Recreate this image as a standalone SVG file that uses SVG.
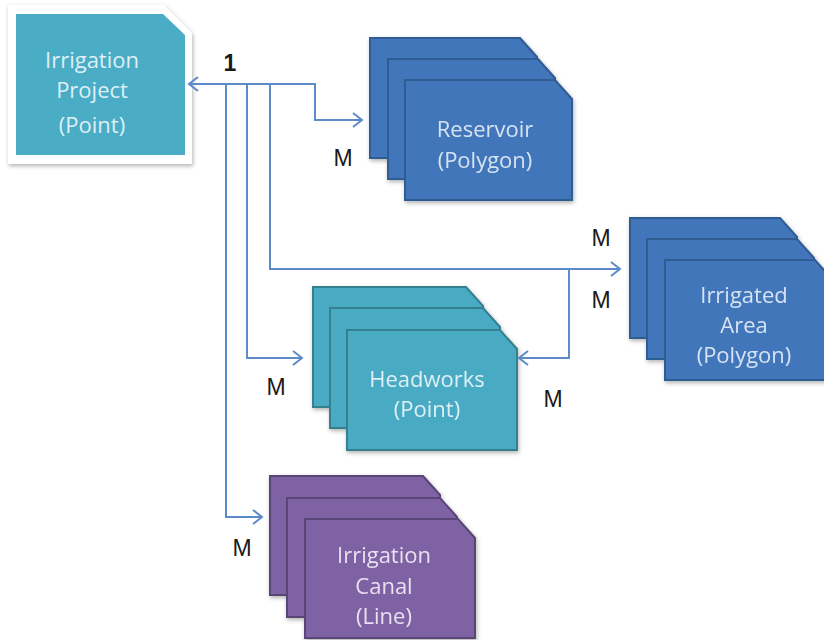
<svg xmlns="http://www.w3.org/2000/svg" width="824" height="640" viewBox="0 0 824 640">
  <defs>
    <filter id="shadow" x="-10%" y="-10%" width="130%" height="130%">
      <feDropShadow dx="1" dy="2" stdDeviation="2" flood-color="#000" flood-opacity="0.3"/>
    </filter>
    <marker id="arrow" markerUnits="userSpaceOnUse" markerWidth="14" markerHeight="16" refX="10" refY="8" orient="auto-start-reverse">
      <path d="M1,1 L10,8 L1,15" fill="none" stroke="#5B8BC9" stroke-width="2"/>
    </marker>
    <style>
      .blue { fill: #4276BA; stroke: #2F5B93; stroke-width: 2; }
      .teal { fill: #48AAC3; stroke: #34808F; stroke-width: 2; }
      .purple { fill: #7F62A3; stroke: #5A4477; stroke-width: 2; }
      .lbl { font-family: "Open Sans", "Liberation Sans", sans-serif; font-size: 22px; text-anchor: middle; }
      .on-blue { fill: #D6E3F3; }
      .on-teal { fill: #DDF0F5; }
      .on-purple { fill: #E9E0F2; }
      .card { font-family: "Liberation Sans", Arial, sans-serif; font-size: 23px; fill: #1A1A1A; text-anchor: middle; }
      .conn { fill: none; stroke: #5B8BC9; stroke-width: 2; }
    </style>
  </defs>

  <rect width="824" height="640" fill="#FFFFFF"/>

  <!-- Irrigation Project -->
  <g id="irrigation-project">
    <path d="M8,5 H164 L192,33 V164 H8 Z" fill="#FFFFFF" filter="url(#shadow)"/>
    <path d="M16,14 H163 L185,35 V155 H16 Z" fill="#4BACC6"/>
    <text class="lbl on-teal" x="92" y="68">Irrigation</text>
    <text class="lbl on-teal" x="92" y="98">Project</text>
    <text class="lbl on-teal" x="92" y="133" font-size="25">(Point)</text>
  </g>

  <!-- Reservoir -->
  <g id="reservoir" filter="url(#shadow)">
    <path class="blue" d="M370,38 H520 L537,57 V158 H370 Z"/>
    <path class="blue" d="M388,59 H538 L555,78 V179 H388 Z"/>
    <path class="blue" d="M405,80 H555 L572,99 V200 H405 Z"/>
    <text class="lbl on-blue" x="485" y="137">Reservoir</text>
    <text class="lbl on-blue" x="485" y="168">(Polygon)</text>
  </g>

  <!-- Irrigated Area -->
  <g id="irrigated-area" filter="url(#shadow)">
    <path class="blue" d="M630,218 H780 L797,237 V338 H630 Z"/>
    <path class="blue" d="M647,239 H797 L814,258 V359 H647 Z"/>
    <path class="blue" d="M665,260 H815 L832,279 V380 H665 Z"/>
    <text class="lbl on-blue" x="744" y="303">Irrigated</text>
    <text class="lbl on-blue" x="744" y="333">Area</text>
    <text class="lbl on-blue" x="744" y="363">(Polygon)</text>
  </g>

  <!-- Headworks -->
  <g id="headworks" filter="url(#shadow)">
    <path class="teal" d="M313,287 H466 L483,306 V407 H313 Z"/>
    <path class="teal" d="M330,308 H483 L500,327 V428 H330 Z"/>
    <path class="teal" d="M347,330 H500 L517,349 V450 H347 Z"/>
    <text class="lbl on-teal" x="427" y="387">Headworks</text>
    <text class="lbl on-teal" x="427" y="417">(Point)</text>
  </g>

  <!-- Irrigation Canal -->
  <g id="irrigation-canal" filter="url(#shadow)">
    <path class="purple" d="M270,476 H423 L440,495 V595 H270 Z"/>
    <path class="purple" d="M287,498 H440 L457,517 V617 H287 Z"/>
    <path class="purple" d="M305,519 H458 L475,538 V638 H305 Z"/>
    <text class="lbl on-purple" x="384" y="563">Irrigation</text>
    <text class="lbl on-purple" x="384" y="594">Canal</text>
    <text class="lbl on-purple" x="384" y="624">(Line)</text>
  </g>

  <!-- Connectors -->
  <g id="connectors">
    <path class="conn" d="M189,84 H315 V120 H362" marker-start="url(#arrow)" marker-end="url(#arrow)"/>
    <path class="conn" d="M226,84 V517 H262" marker-end="url(#arrow)"/>
    <path class="conn" d="M247,84 V358 H302" marker-end="url(#arrow)"/>
    <path class="conn" d="M270,84 V269 H620" marker-end="url(#arrow)"/>
    <path class="conn" d="M569,269 V358 H519" marker-end="url(#arrow)"/>
  </g>

  <!-- Cardinality labels -->
  <g id="cardinality">
    <text class="card" x="230" y="71" font-weight="bold" font-size="21">1</text>
    <text class="card" x="343" y="166">M</text>
    <text class="card" x="601" y="246">M</text>
    <text class="card" x="601" y="308">M</text>
    <text class="card" x="276" y="395">M</text>
    <text class="card" x="553" y="407">M</text>
    <text class="card" x="242" y="556">M</text>
  </g>
</svg>
